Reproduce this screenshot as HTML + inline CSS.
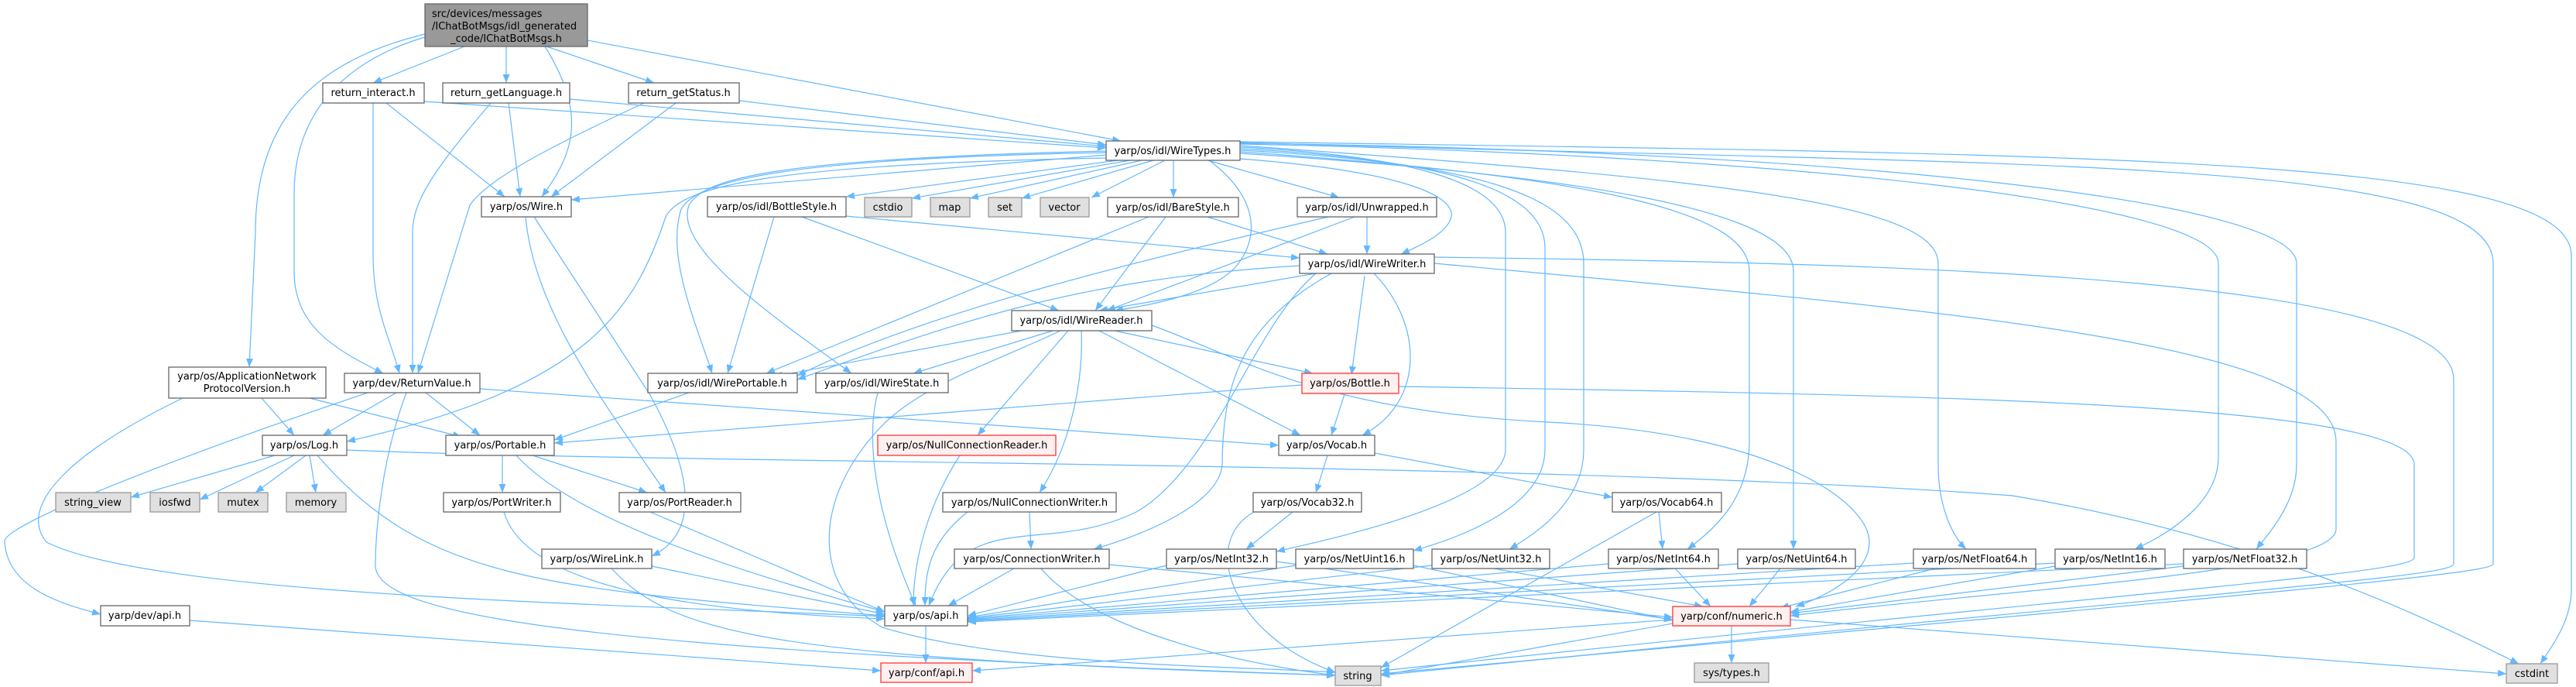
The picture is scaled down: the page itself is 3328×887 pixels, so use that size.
<!DOCTYPE html>
<html><head><meta charset="utf-8"><style>
html,body{margin:0;padding:0;background:#fff;}
svg{display:block;}
text{font-family:"DejaVu Sans","Liberation Sans",sans-serif;font-size:13px;fill:#000;}
.e{fill:none;stroke:#63b8ff;stroke-width:1.2;marker-end:url(#a);}
.n{fill:#fff;stroke:#666;stroke-width:1.3;}
.g{fill:#e0e0e0;stroke:#999;stroke-width:1.3;}
.r{fill:#fff0f0;stroke:#f33;stroke-width:1.3;}
.m{fill:#999;stroke:#666;stroke-width:1.3;}
</style></head><body>
<svg width="3328" height="887" viewBox="0 0 3328 887" xmlns="http://www.w3.org/2000/svg">
<defs><marker id="a" markerUnits="userSpaceOnUse" markerWidth="12" markerHeight="10" refX="11" refY="5" orient="auto"><path d="M0,0.5 L11,5 L0,9.5 z" fill="#63b8ff"/></marker></defs>
<g>
<path class="e" d="M600,60 L482,107"/>
<path class="e" d="M654,60 L654,107"/>
<path class="e" d="M706,60 L845,107"/>
<path class="e" d="M704,60 C760,150 740,200 700,254"/>
<path class="e" d="M759,52 L1448,182"/>
<path class="e" d="M549,44 C400,80 330,160 330,300 L322,474"/>
<path class="e" d="M549,48 C440,80 380,150 380,250 L380,350 C380,420 430,450 495,482"/>
<path class="e" d="M548,131 L1429,191"/>
<path class="e" d="M499,133 L652,254"/>
<path class="e" d="M482,133 L482,330 C482,400 505,440 516,482"/>
<path class="e" d="M736,128 L1429,189"/>
<path class="e" d="M657,133 L672,254"/>
<path class="e" d="M634,133 C560,220 533,260 533,300 L533,482"/>
<path class="e" d="M955,130 L1429,187"/>
<path class="e" d="M873,133 L712,254"/>
<path class="e" d="M832,133 C720,185 630,230 607,265 L540,482"/>
<path class="e" d="M1429,200 L738,258"/>
<path class="e" d="M1429,204 C1000,212 880,240 860,280 C820,400 760,500 448,570"/>
<path class="e" d="M1444,207 L1093,254"/>
<path class="e" d="M1460,207 L1178,256"/>
<path class="e" d="M1475,207 L1253,256"/>
<path class="e" d="M1490,207 L1320,256"/>
<path class="e" d="M1505,207 L1410,255"/>
<path class="e" d="M1516,207 L1516,255"/>
<path class="e" d="M1560,207 L1730,255"/>
<path class="e" d="M1602,205 C1800,220 1880,250 1875,280 C1870,300 1840,315 1810,328"/>
<path class="e" d="M1562,207 C1620,250 1630,300 1600,340 C1570,380 1480,395 1440,401"/>
<path class="e" d="M1429,197 C1000,205 900,235 880,270 C860,330 900,420 920,482"/>
<path class="e" d="M1429,195 C1000,205 910,230 890,265 C870,320 1000,410 1100,482"/>
<path class="e" d="M1602,190 C1800,200 1945,230 1945,300 L1945,580 C1945,650 1700,700 1649,712"/>
<path class="e" d="M1602,192 C1850,205 1996,240 1996,320 L1996,580 C1996,650 1900,690 1826,711"/>
<path class="e" d="M1602,194 C1900,210 2046,250 2046,340 L2046,580 C2046,640 2000,680 1950,709"/>
<path class="e" d="M1602,196 C2100,230 2260,280 2260,350 L2260,570 C2260,640 2220,680 2180,709"/>
<path class="e" d="M1602,198 C2100,230 2317,280 2317,350 L2317,709"/>
<path class="e" d="M1602,188 C2200,230 2504,260 2504,340 L2504,600 C2504,650 2520,690 2540,709"/>
<path class="e" d="M1602,186 C2300,200 2866,260 2866,340 L2866,590 C2866,650 2800,690 2758,709"/>
<path class="e" d="M1602,185 C2400,195 2967,260 2967,340 L2967,600 C2967,650 2930,690 2915,709"/>
<path class="e" d="M1602,184 C2600,215 3221,200 3221,340 L3221,728 C3221,740 3000,760 1784,870"/>
<path class="e" d="M1602,183 C2700,200 3322,200 3322,330 L3322,760 C3322,800 3300,830 3282,857"/>
<path class="e" d="M1853,332 C2500,340 3170,360 3170,490 L3170,728 C3170,745 2900,760 1784,872"/>
<path class="e" d="M1853,340 C2500,400 3018,440 3018,570 L3018,683 C3018,740 2600,760 2313,795"/>
<path class="e" d="M1700,353 L1420,401"/>
<path class="e" d="M1763,356 L1746,484"/>
<path class="e" d="M1775,353 C1840,420 1840,520 1760,562"/>
<path class="e" d="M1679,343 C1400,360 1250,410 1030,490"/>
<path class="e" d="M1700,353 C1620,420 1570,600 1470,660 C1350,720 1250,650 1200,782"/>
<path class="e" d="M1720,353 C1600,420 1580,500 1579,600 C1575,650 1480,690 1413,709"/>
<path class="e" d="M1766,280 L1766,328"/>
<path class="e" d="M1750,280 L1430,401"/>
<path class="e" d="M1716,280 C1500,330 1200,400 1030,485"/>
<path class="e" d="M1560,280 L1715,328"/>
<path class="e" d="M1506,280 L1415,401"/>
<path class="e" d="M1484,280 L990,482"/>
<path class="e" d="M1093,279 L1679,333"/>
<path class="e" d="M1036,280 L1368,401"/>
<path class="e" d="M1000,280 L940,482"/>
<path class="e" d="M1320,427 L1000,486"/>
<path class="e" d="M1360,427 L1180,482"/>
<path class="e" d="M1380,427 L1263,562"/>
<path class="e" d="M1397,427 C1400,500 1380,580 1343,636"/>
<path class="e" d="M1440,427 L1696,482"/>
<path class="e" d="M1420,427 L1680,562"/>
<path class="e" d="M1370,427 C1280,470 1180,500 1130,560 C1050,650 1050,760 1140,810 C1300,860 1600,860 1725,868"/>
<path class="e" d="M1488,420 C1600,460 1700,530 2000,545 C2300,560 2415,650 2415,700 C2415,740 2360,770 2320,783"/>
<path class="e" d="M679,280 C690,400 780,520 860,636"/>
<path class="e" d="M690,280 L840,510 C900,620 900,690 842,718"/>
<path class="e" d="M890,507 L716,568"/>
<path class="e" d="M1134,507 C1120,560 1125,650 1183,782"/>
<path class="e" d="M1682,497 L716,572"/>
<path class="e" d="M1737,509 L1720,562"/>
<path class="e" d="M1807,499 C2500,510 3119,520 3119,600 L3119,720 C3119,740 2800,760 1784,866"/>
<path class="e" d="M1240,588 C1200,650 1180,720 1180,782"/>
<path class="e" d="M1330,661 L1332,709"/>
<path class="e" d="M1250,661 C1200,700 1195,740 1195,782"/>
<path class="e" d="M1310,734 L1225,782"/>
<path class="e" d="M1345,734 C1400,800 1550,850 1725,872"/>
<path class="e" d="M1433,729 L2161,797"/>
<path class="e" d="M1715,588 L1700,636"/>
<path class="e" d="M1776,585 L2083,642"/>
<path class="e" d="M1670,661 L1610,709"/>
<path class="e" d="M1620,661 C1550,700 1590,820 1725,868"/>
<path class="e" d="M2143,661 L2148,709"/>
<path class="e" d="M2140,661 L1784,862"/>
<path class="e" d="M1507,730 L1250,795"/>
<path class="e" d="M1649,725 L2161,800"/>
<path class="e" d="M1674,730 L1250,797"/>
<path class="e" d="M1826,730 L2161,801"/>
<path class="e" d="M1850,730 L1250,798"/>
<path class="e" d="M1930,734 L2200,783"/>
<path class="e" d="M2078,728 L1250,799"/>
<path class="e" d="M2164,734 L2210,783"/>
<path class="e" d="M2245,728 L1250,800"/>
<path class="e" d="M2300,734 L2260,783"/>
<path class="e" d="M2472,727 L1250,801"/>
<path class="e" d="M2500,734 L2300,785"/>
<path class="e" d="M2655,727 L1250,802"/>
<path class="e" d="M2655,731 L2313,790"/>
<path class="e" d="M2821,728 L1250,803"/>
<path class="e" d="M2821,731 L2313,792"/>
<path class="e" d="M2161,800 L1256,866"/>
<path class="e" d="M2237,808 L2237,856"/>
<path class="e" d="M2161,805 L1784,872"/>
<path class="e" d="M2313,800 L3238,870"/>
<path class="e" d="M1196,808 L1196,856"/>
<path class="e" d="M245,801 L1138,866"/>
<path class="e" d="M355,588 L169,642"/>
<path class="e" d="M380,588 L258,645"/>
<path class="e" d="M395,588 L330,636"/>
<path class="e" d="M400,588 L408,636"/>
<path class="e" d="M410,588 C550,750 700,760 1143,795"/>
<path class="e" d="M448,581 C900,600 2000,595 2600,640 C2900,690 3100,780 3254,857"/>
<path class="e" d="M649,588 L649,636"/>
<path class="e" d="M688,588 L836,636"/>
<path class="e" d="M667,588 C750,680 1000,750 1143,790"/>
<path class="e" d="M651,661 C680,760 900,790 1143,799"/>
<path class="e" d="M840,661 L1143,790"/>
<path class="e" d="M842,731 L1143,793"/>
<path class="e" d="M790,734 C870,820 1000,850 1725,872"/>
<path class="e" d="M512,507 L417,562"/>
<path class="e" d="M550,507 L620,562"/>
<path class="e" d="M475,507 C200,600 0,680 6,700 C10,760 80,780 130,793"/>
<path class="e" d="M525,507 C490,600 485,700 485,730 C485,800 800,840 1725,872"/>
<path class="e" d="M620,502 L1652,575"/>
<path class="e" d="M338,514 L380,562"/>
<path class="e" d="M400,514 L596,564"/>
<path class="e" d="M236,514 C100,580 20,650 60,700 C200,770 800,780 1143,796"/>
</g>
<g>
<rect class="m" x="549" y="5" width="210" height="55"/>
<text x="558" y="22">src/devices/messages</text>
<text x="558" y="38">/IChatBotMsgs/idl_generated</text>
<text x="654" y="54" text-anchor="middle">_code/IChatBotMsgs.h</text>
<rect class="n" x="218" y="474" width="203" height="40"/>
<text x="319" y="490" text-anchor="middle">yarp/os/ApplicationNetwork</text>
<text x="319" y="506" text-anchor="middle">ProtocolVersion.h</text>
</g>
<g text-anchor="middle">
<rect class="n" x="417" y="107" width="131" height="26"/><text x="482" y="124">return_interact.h</text>
<rect class="n" x="572" y="107" width="164" height="26"/><text x="654" y="124">return_getLanguage.h</text>
<rect class="n" x="812" y="107" width="143" height="26"/><text x="883" y="124">return_getStatus.h</text>
<rect class="n" x="1429" y="182" width="173" height="25"/><text x="1515" y="199">yarp/os/idl/WireTypes.h</text>
<rect class="n" x="622" y="254" width="116" height="26"/><text x="680" y="271">yarp/os/Wire.h</text>
<rect class="n" x="914" y="254" width="179" height="26"/><text x="1003" y="271">yarp/os/idl/BottleStyle.h</text>
<rect class="g" x="1117" y="255" width="61" height="25"/><text x="1147" y="272">cstdio</text>
<rect class="g" x="1202" y="255" width="51" height="25"/><text x="1227" y="272">map</text>
<rect class="g" x="1277" y="255" width="43" height="25"/><text x="1298" y="272">set</text>
<rect class="g" x="1344" y="255" width="63" height="25"/><text x="1375" y="272">vector</text>
<rect class="n" x="1431" y="255" width="169" height="25"/><text x="1515" y="272">yarp/os/idl/BareStyle.h</text>
<rect class="n" x="1676" y="255" width="180" height="25"/><text x="1766" y="272">yarp/os/idl/Unwrapped.h</text>
<rect class="n" x="1679" y="328" width="174" height="25"/><text x="1766" y="345">yarp/os/idl/WireWriter.h</text>
<rect class="n" x="1307" y="401" width="181" height="26"/><text x="1397" y="418">yarp/os/idl/WireReader.h</text>
<rect class="n" x="445" y="482" width="175" height="25"/><text x="532" y="499">yarp/dev/ReturnValue.h</text>
<rect class="n" x="837" y="482" width="193" height="25"/><text x="933" y="499">yarp/os/idl/WirePortable.h</text>
<rect class="n" x="1054" y="482" width="171" height="25"/><text x="1139" y="499">yarp/os/idl/WireState.h</text>
<rect class="r" x="1682" y="482" width="125" height="26"/><text x="1744" y="499">yarp/os/Bottle.h</text>
<rect class="n" x="339" y="562" width="109" height="26"/><text x="393" y="579">yarp/os/Log.h</text>
<rect class="n" x="576" y="562" width="140" height="26"/><text x="646" y="579">yarp/os/Portable.h</text>
<rect class="r" x="1134" y="562" width="230" height="26"/><text x="1249" y="579">yarp/os/NullConnectionReader.h</text>
<rect class="n" x="1652" y="562" width="124" height="26"/><text x="1714" y="579">yarp/os/Vocab.h</text>
<rect class="g" x="72" y="636" width="97" height="25"/><text x="120" y="653">string_view</text>
<rect class="g" x="194" y="636" width="64" height="25"/><text x="226" y="653">iosfwd</text>
<rect class="g" x="282" y="636" width="64" height="25"/><text x="314" y="653">mutex</text>
<rect class="g" x="370" y="636" width="77" height="25"/><text x="408" y="653">memory</text>
<rect class="n" x="573" y="636" width="151" height="25"/><text x="648" y="653">yarp/os/PortWriter.h</text>
<rect class="n" x="800" y="636" width="157" height="25"/><text x="878" y="653">yarp/os/PortReader.h</text>
<rect class="n" x="1218" y="636" width="224" height="25"/><text x="1330" y="653">yarp/os/NullConnectionWriter.h</text>
<rect class="n" x="1619" y="636" width="140" height="25"/><text x="1689" y="653">yarp/os/Vocab32.h</text>
<rect class="n" x="2083" y="636" width="141" height="25"/><text x="2153" y="653">yarp/os/Vocab64.h</text>
<rect class="n" x="700" y="709" width="142" height="25"/><text x="771" y="726">yarp/os/WireLink.h</text>
<rect class="n" x="1233" y="709" width="200" height="25"/><text x="1333" y="726">yarp/os/ConnectionWriter.h</text>
<rect class="n" x="1507" y="709" width="142" height="25"/><text x="1578" y="726">yarp/os/NetInt32.h</text>
<rect class="n" x="1674" y="709" width="152" height="25"/><text x="1750" y="726">yarp/os/NetUint16.h</text>
<rect class="n" x="1850" y="709" width="152" height="25"/><text x="1926" y="726">yarp/os/NetUint32.h</text>
<rect class="n" x="2078" y="709" width="142" height="25"/><text x="2149" y="726">yarp/os/NetInt64.h</text>
<rect class="n" x="2245" y="709" width="152" height="25"/><text x="2321" y="726">yarp/os/NetUint64.h</text>
<rect class="n" x="2472" y="709" width="158" height="25"/><text x="2551" y="726">yarp/os/NetFloat64.h</text>
<rect class="n" x="2655" y="709" width="142" height="25"/><text x="2726" y="726">yarp/os/NetInt16.h</text>
<rect class="n" x="2821" y="709" width="159" height="25"/><text x="2900" y="726">yarp/os/NetFloat32.h</text>
<rect class="n" x="130" y="782" width="115" height="26"/><text x="187" y="799">yarp/dev/api.h</text>
<rect class="n" x="1143" y="782" width="107" height="26"/><text x="1196" y="799">yarp/os/api.h</text>
<rect class="r" x="2161" y="783" width="152" height="25"/><text x="2237" y="800">yarp/conf/numeric.h</text>
<rect class="r" x="1138" y="856" width="118" height="25"/><text x="1197" y="873">yarp/conf/api.h</text>
<rect class="g" x="1725" y="860" width="59" height="25"/><text x="1754" y="877">string</text>
<rect class="g" x="2189" y="856" width="96" height="25"/><text x="2237" y="873">sys/types.h</text>
<rect class="g" x="3238" y="857" width="66" height="25"/><text x="3271" y="874">cstdint</text>
</g>
</svg>
</body></html>
